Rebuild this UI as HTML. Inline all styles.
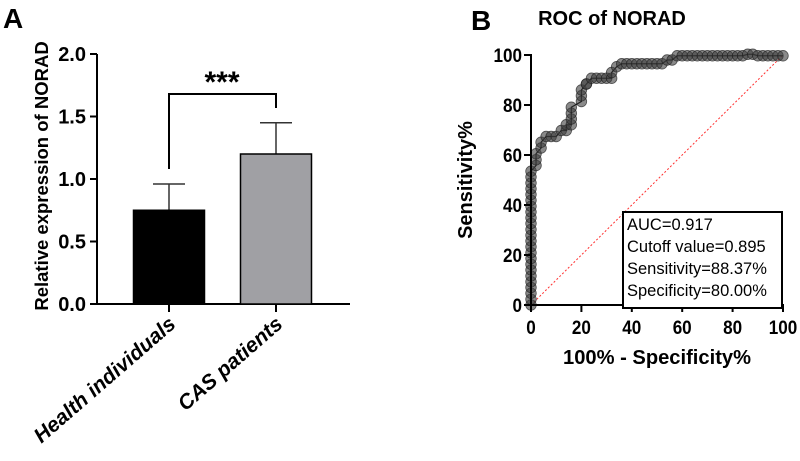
<!DOCTYPE html>
<html><head><meta charset="utf-8"><style>
body{margin:0;background:#fff;}
svg{display:block;font-family:"Liberation Sans",Arial,sans-serif;}
.b{font-weight:bold;}
.n{font-family:"Liberation Sans Narrow","Liberation Sans",sans-serif;font-weight:bold;}
</style></head><body>
<svg id="fig" width="800" height="461" viewBox="0 0 800 461">
<text x="3" y="28" class="b" font-size="28">A</text>
<text x="471" y="30" class="b" font-size="28">B</text>
<g id="barChart"></g>
<g id="roc"></g>
</svg>
<script>
const NS="http://www.w3.org/2000/svg";
function mk(p,t,a,txt){const e=document.createElementNS(NS,t);for(const k in a)e.setAttribute(k,a[k]);if(txt!=null)e.textContent=txt;p.appendChild(e);return e;}

// ---- Bar chart data ----
const barCategories=["Health individuals","CAS patients"];
const barMeans=[0.75,1.20];
const barErrors=[0.21,0.25];
const barColors=["#000000","#a0a0a4"];
const barTicks=[0,0.5,1.0,1.5,2.0];

// ---- ROC data ----
const rocFpr=[0,0,0,0,0,0,0,0,0,0,0,0,0,0,0,0,0,0,0,0,0,0,0,0,2,2,2,4,4,6,8,10,12,14,14,16,16,16,16,20,20,20,22,22,24,26,28,30,32,32,34,36,38,40,42,44,46,48,50,52,54,56,58,60,62,64,66,68,70,72,74,76,78,80,82,84,86,88,90,92,94,96,98,100];
const rocTpr=[0,2.3,4.7,7,9.3,11.6,14,16.3,18.6,20.9,23.3,25.6,27.9,30.2,32.6,34.9,37.2,39.5,41.9,44.2,46.5,48.8,51.2,53.5,55.8,58.1,60.5,62.8,65.1,67.4,67.4,67.4,69.8,69.8,72.1,72.1,74.4,76.7,79.1,81.4,83.7,86,88.4,88.4,90.7,90.7,90.7,90.7,90.7,93,95.3,96.5,96.5,96.5,96.5,96.5,96.5,96.5,96.5,96.5,98,98,99.7,99.7,99.7,99.7,99.7,99.7,99.7,99.7,99.7,99.7,99.7,99.7,99.7,99.7,100.3,100.3,99.7,99.7,99.7,99.7,99.7,99.7];
const rocTicks=[0,20,40,60,80,100];

// ---- Bar chart ----
(function(){
const g=document.getElementById('barChart');
const x0=97,y0=304,ppu=125;
const ys=v=>y0-v*ppu;
const centers=[169,276],bw=71;
mk(g,'line',{x1:x0,y1:ys(2),x2:x0,y2:y0+1,stroke:'#000','stroke-width':2});
mk(g,'line',{x1:x0-1,y1:y0,x2:350,y2:y0,stroke:'#000','stroke-width':2});
barTicks.forEach(t=>{
 mk(g,'line',{x1:x0-7,y1:ys(t),x2:x0,y2:ys(t),stroke:'#000','stroke-width':2});
 const l=mk(g,'text',{x:x0-11,y:ys(t)+7,'text-anchor':'end','font-size':20,class:'b'},t.toFixed(1));
 
 
});
barCategories.forEach((c,i)=>{
 const cx=centers[i];
 const e=mk(g,'line',{x1:cx,y1:ys(barMeans[i]),x2:cx,y2:ys(barMeans[i]+barErrors[i]),stroke:'#333','stroke-width':1.5});
 
 mk(g,'line',{x1:cx-16,y1:ys(barMeans[i]+barErrors[i]),x2:cx+16,y2:ys(barMeans[i]+barErrors[i]),stroke:'#333','stroke-width':1.5});
 const r=mk(g,'rect',{x:cx-bw/2,y:ys(barMeans[i]),width:bw,height:barMeans[i]*ppu,fill:barColors[i],stroke:'#000','stroke-width':1.5});
 
 
 mk(g,'line',{x1:cx,y1:y0,x2:cx,y2:y0+8,stroke:'#000','stroke-width':2});
 const l=mk(g,'text',{x:0,y:0,'text-anchor':'end','font-size':21,class:'b','font-style':'italic',transform:`translate(${cx+8},${y0+22}) rotate(-41)`},c);
 
 
});
const br=mk(g,'path',{d:`M169,169 V94 H276 V108`,fill:'none',stroke:'#000','stroke-width':2});

const st=mk(g,'text',{x:222,y:92,'text-anchor':'middle','font-size':30,class:'b'},'***');

const yt=mk(g,'text',{x:0,y:0,'text-anchor':'middle','font-size':18.5,class:'b',transform:'translate(48,176) rotate(-90)'},'Relative expression of NORAD');


})();

// ---- ROC ----
(function(){
const g=document.getElementById('roc');
const x0=531,x1=783,y0=305,y1=55;
const xs=v=>x0+v*(x1-x0)/100, ys=v=>y0-v*(y0-y1)/100;
const t=mk(g,'text',{x:612,y:25,'text-anchor':'middle','font-size':20,class:'b'},'ROC of NORAD');

const d=mk(g,'line',{x1:xs(0),y1:ys(0),x2:xs(100),y2:ys(100),stroke:'#ff3030','stroke-width':1,'stroke-dasharray':'2,2'});

let p='';rocFpr.forEach((f,i)=>{p+=(i?'L':'M')+xs(f)+','+ys(rocTpr[i]);});
const ln=mk(g,'path',{d:p,fill:'none',stroke:'#000','stroke-width':1.2});

rocFpr.forEach((f,i)=>{
 const c=mk(g,'circle',{cx:xs(f),cy:ys(rocTpr[i]),r:5.3,fill:'rgba(60,60,60,0.6)',stroke:'rgba(30,30,30,0.7)','stroke-width':0.8});
 
 
});
mk(g,'line',{x1:x0,y1:y1-1,x2:x0,y2:y0+1,stroke:'#000','stroke-width':2});
mk(g,'line',{x1:x0-1,y1:y0,x2:x1+1,y2:y0,stroke:'#000','stroke-width':2});
rocTicks.forEach(v=>{
 mk(g,'line',{x1:x0-7,y1:ys(v),x2:x0,y2:ys(v),stroke:'#000','stroke-width':2});
 const a=mk(g,'text',{x:x0-9,y:ys(v)+7,'text-anchor':'end','font-size':19,class:'n',textLength:String(v).length*9.5,lengthAdjust:'spacingAndGlyphs'},v);
 
 
 mk(g,'line',{x1:xs(v),y1:y0,x2:xs(v),y2:y0+7,stroke:'#000','stroke-width':2});
 const b=mk(g,'text',{x:xs(v),y:y0+29,'text-anchor':'middle','font-size':19,class:'n',textLength:String(v).length*9.5,lengthAdjust:'spacingAndGlyphs'},v);
 
 
});
const xt=mk(g,'text',{x:657,y:364,'text-anchor':'middle','font-size':20,class:'n',textLength:188,lengthAdjust:'spacingAndGlyphs'},'100% - Specificity%');

const yt=mk(g,'text',{x:0,y:0,'text-anchor':'middle','font-size':20,class:'n',transform:'translate(472,180) rotate(-90)'},'Sensitivity%');

const lg=mk(g,'g',{});


mk(lg,'rect',{x:623,y:212,width:159,height:96,fill:'#fff',stroke:'#000','stroke-width':2});
['AUC=0.917','Cutoff value=0.895','Sensitivity=88.37%','Specificity=80.00%'].forEach((s,i)=>{
 const tx=mk(lg,'text',{x:627,y:230+i*22,'font-size':16.5},s);
 
 
});
})();
</script>
</body></html>
